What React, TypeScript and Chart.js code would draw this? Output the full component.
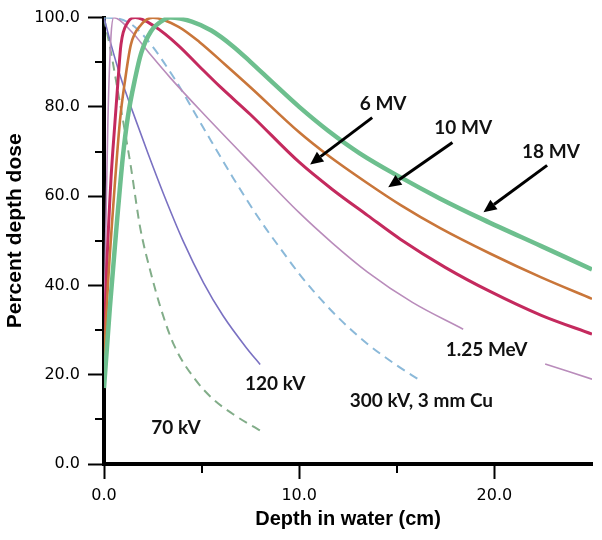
import { useEffect, useRef } from 'react';
import { Chart, registerables } from 'chart.js';

Chart.register(...registerables);

// ---- data (depth in cm, percent depth dose) ----
const depth18MV = [0, 0.3, 0.62, 0.97, 1.23, 1.6, 1.9, 2.4, 3.1, 3.4, 4.5, 5.5, 6.6, 7.5, 8.7, 10, 11.5, 13.1, 15.2, 17.2, 19.4, 22.4, 25];
const dose18MV = [17, 35, 52, 69, 78, 86.5, 92, 96.9, 99.6, 100, 99.1, 97.1, 93.6, 90.1, 85.2, 80.0, 74.6, 69.6, 64.2, 59.5, 54.8, 48.8, 43.6];

const depth10MV = [0, 0.2, 0.46, 0.82, 1.08, 1.38, 1.9, 2.5, 3.8, 4.9, 6.2, 7.5, 10, 11.4, 13.5, 15.2, 17.2, 19.8, 22.4, 25];
const dose10MV = [23, 40, 57, 77, 86, 94, 98.4, 100, 98.0, 94.5, 89.5, 84.4, 74.3, 69.4, 62.9, 58, 52.9, 47.1, 41.8, 37];

const depth6MV = [0, 0.15, 0.36, 0.56, 0.72, 0.87, 1.23, 1.6, 2.6, 3.8, 4.9, 6, 7.5, 10, 11.7, 13.5, 15.2, 17.5, 19.8, 22.4, 25];
const dose6MV = [26, 45, 64, 76.5, 86, 94, 99, 100, 98, 93.8, 89, 84.3, 78.3, 67.6, 61.5, 55.7, 50.3, 44, 38.6, 33.3, 29.1];

const depthCo60 = [0, 0.2, 0.36, 0.5, 1.38, 2.4, 3.4, 5, 7.5, 10, 11.7, 13.5, 15.8, 18.4, 20.5, 22.6, 25];
const doseCo60 = [30, 77, 96, 100, 97, 91.6, 86.5, 78.9, 67.5, 56.3, 49.5, 43, 36.2, 30.2, null, 22.4, 19];

const depth300kV = [0, 0.7, 1.4, 2.2, 3.6, 5, 6.6, 8, 9.2, 10, 10.7, 12, 13.5, 15, 16.2];
const dose300kV = [100, 99.8, 98.5, 95.1, 86.4, 76.0, 64.2, 54.6, 47.3, 42.6, 38.9, 32.8, 26.9, 22.1, 18.7];

const depth120kV = [0, 0.36, 0.87, 1.38, 2.26, 3.05, 4.05, 5.1, 6.1, 7.3, 8.0];
const dose120kV = [100, 94, 86.4, 80, 69.5, 60.5, 50, 40.6, 33.2, 26, 22.3];

const depth70kV = [0, 0.41, 0.67, 1.13, 1.38, 1.6, 1.85, 2.4, 2.9, 3.6, 4.75, 5.6, 6.6, 7.4, 8.2];
const dose70kV = [100, 91, 84.5, 73, 66.5, 60, 53, 42.8, 35, 26.5, 18.5, 14.5, 11.2, 9, 7];

const seriesNames = ['18 MV', '10 MV', '6 MV', '1.25 MeV', '300 kV, 3 mm Cu', '120 kV', '70 kV'];

// ---- axes ----
const xTicks = [0, 10, 20];
const xMinorTicks = [5, 15];
const yTicks = [0, 20, 40, 60, 80, 100];
const yMinorTicks = [10, 30, 50, 70, 90];
const xTitle = 'Depth in water (cm)';
const yTitle = 'Percent depth dose';

// ---- annotations (data units) ----
const labelTexts = ['18 MV', '10 MV', '6 MV', '1.25 MeV', '300 kV, 3 mm Cu', '120 kV', '70 kV'];
const labelX = [22.9, 18.4, 14.3, 19.6, 16.26, 8.77, 3.69];
const labelY = [70, 75.3, 80.7, 25.6, 14.2, 18, 8.2];
const arrowFromX = [22.7, 17.85, 13.74];
const arrowFromY = [66.9, 72, 77.6];
const arrowToX = [19.44, 14.56, 10.56];
const arrowToY = [56.4, 62, 67.1];

const pts = (xs: number[], ys: (number | null)[]) => xs.map((x, i) => ({ x, y: ys[i] }));

const decorPlugin = {
  id: 'decor',
  afterDatasetsDraw(chart: any) {
    const { ctx, chartArea } = chart;
    const xs = chart.scales.x;
    const ys = chart.scales.y;
    ctx.save();
    // minor ticks
    ctx.strokeStyle = '#000';
    ctx.lineWidth = 2;
    yMinorTicks.forEach((v) => {
      const py = Math.round(ys.getPixelForValue(v));
      ctx.beginPath();
      ctx.moveTo(chartArea.left - 9, py);
      ctx.lineTo(chartArea.left, py);
      ctx.stroke();
    });
    xMinorTicks.forEach((v) => {
      const px = Math.round(xs.getPixelForValue(v));
      ctx.beginPath();
      ctx.moveTo(px, chartArea.bottom);
      ctx.lineTo(px, chartArea.bottom + 9);
      ctx.stroke();
    });
    // curve labels
    ctx.fillStyle = '#111';
    ctx.font = 'bold 19px Lato';
    ctx.textAlign = 'center';
    ctx.textBaseline = 'middle';
    labelTexts.forEach((t, i) => {
      ctx.fillText(t, xs.getPixelForValue(labelX[i]), ys.getPixelForValue(labelY[i]));
    });
    // arrows
    ctx.strokeStyle = '#000';
    ctx.fillStyle = '#000';
    ctx.lineWidth = 3;
    arrowFromX.forEach((_, i) => {
      const x1 = xs.getPixelForValue(arrowFromX[i]);
      const y1 = ys.getPixelForValue(arrowFromY[i]);
      const x2 = xs.getPixelForValue(arrowToX[i]);
      const y2 = ys.getPixelForValue(arrowToY[i]);
      const ang = Math.atan2(y2 - y1, x2 - x1);
      const head = 13;
      const hw = 6;
      const bx = x2 - head * Math.cos(ang);
      const by = y2 - head * Math.sin(ang);
      ctx.beginPath();
      ctx.moveTo(x1, y1);
      ctx.lineTo(bx, by);
      ctx.stroke();
      ctx.beginPath();
      ctx.moveTo(x2, y2);
      ctx.lineTo(bx + hw * Math.sin(ang), by - hw * Math.cos(ang));
      ctx.lineTo(bx - hw * Math.sin(ang), by + hw * Math.cos(ang));
      ctx.closePath();
      ctx.fill();
    });
    // y-axis title
    ctx.fillStyle = '#000';
    ctx.font = 'bold 21px "Liberation Sans"';
    ctx.translate(15, (chartArea.top + chartArea.bottom) / 2 - 10);
    ctx.rotate(-Math.PI / 2);
    ctx.fillText(yTitle, 0, 0);
    ctx.restore();
  },
};

export default function App() {
  const ref = useRef<HTMLCanvasElement>(null);
  useEffect(() => {
    if (!ref.current) return;
    const common = { pointRadius: 0, pointHoverRadius: 0, fill: false, cubicInterpolationMode: 'monotone' as const, spanGaps: false };
    const chart = new Chart(ref.current, {
      type: 'line',
      data: {
        datasets: [
          { label: seriesNames[0], data: pts(depth18MV, dose18MV), borderColor: '#6dbf8e', borderWidth: 4.5, ...common },
          { label: seriesNames[1], data: pts(depth10MV, dose10MV), borderColor: '#c9763a', borderWidth: 2.6, ...common },
          { label: seriesNames[2], data: pts(depth6MV, dose6MV), borderColor: '#c42a5e', borderWidth: 3, ...common },
          { label: seriesNames[3], data: pts(depthCo60, doseCo60), borderColor: '#b98cbb', borderWidth: 1.6, ...common },
          { label: seriesNames[4], data: pts(depth300kV, dose300kV), borderColor: '#8bb9d9', borderWidth: 2, borderDash: [9, 6], ...common },
          { label: seriesNames[5], data: pts(depth120kV, dose120kV), borderColor: '#7a71c2', borderWidth: 1.6, ...common },
          { label: seriesNames[6], data: pts(depth70kV, dose70kV), borderColor: '#82ad89', borderWidth: 2, borderDash: [9, 6], ...common },
        ] as any,
      },
      options: {
        responsive: false,
        animation: false,
        devicePixelRatio: 1,
        layout: { padding: { left: 0, top: 14, right: 10, bottom: 0 } },
        plugins: { legend: { display: false }, tooltip: { enabled: false } },
        scales: {
          x: {
            type: 'linear',
            min: 0,
            max: 25,
            afterBuildTicks: (s: any) => { s.ticks = xTicks.map((v) => ({ value: v })); },
            afterFit: (s: any) => { s.height = 76; },
            grid: { display: true, drawOnChartArea: false, drawTicks: true, tickLength: 15, tickWidth: 2, tickColor: '#000', color: '#000' },
            border: { display: true, color: '#000', width: 4 },
            ticks: {
              color: '#000',
              padding: 7,
              maxRotation: 0,
              font: { family: '"DejaVu Sans"', size: 16 },
              callback: (v: any) => Number(v).toFixed(1),
            },
            title: {
              display: true,
              text: xTitle,
              color: '#000',
              font: { family: '"Liberation Sans"', size: 20, weight: 'bold' },
              padding: { top: 0, bottom: 9 },
            },
          },
          y: {
            type: 'linear',
            min: 0,
            max: 100,
            afterBuildTicks: (s: any) => { s.ticks = yTicks.map((v) => ({ value: v })); },
            afterFit: (s: any) => { s.width = 104; },
            grid: { display: true, drawOnChartArea: false, drawTicks: true, tickLength: 16, tickWidth: 2, tickColor: '#000', color: '#000' },
            border: { display: true, color: '#000', width: 4 },
            ticks: {
              color: '#000',
              padding: 8,
              font: { family: '"DejaVu Sans"', size: 16 },
              callback: (v: any) => Number(v).toFixed(1),
            },
          },
        },
      } as any,
      plugins: [decorPlugin],
    });
    return () => chart.destroy();
  }, []);
  return (
    <div style={{ position: 'absolute', left: 0, top: 0, width: 602, height: 540, background: '#fff' }}>
      <canvas ref={ref} width={602} height={540} style={{ display: 'block' }} />
    </div>
  );
}
